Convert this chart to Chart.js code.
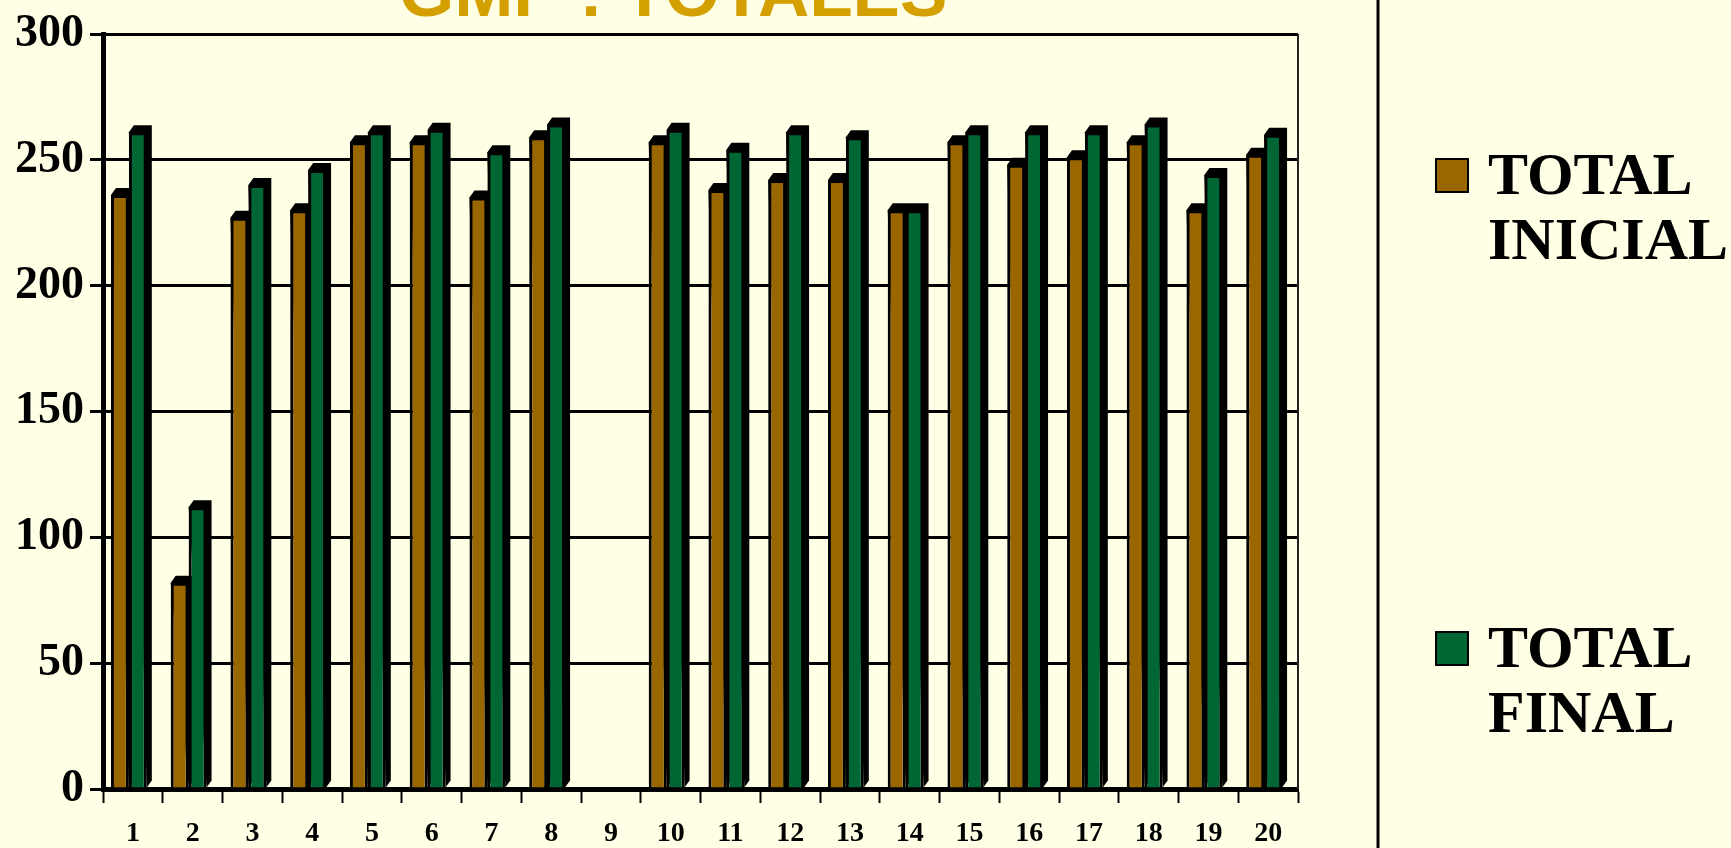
<!DOCTYPE html>
<html>
<head>
<meta charset="utf-8">
<script src="https://cdn.jsdelivr.net/npm/chart.js@4/dist/chart.umd.min.js"></script>
<style>
  html, body { margin: 0; padding: 0; background: #FFFFE6; overflow: hidden; }
  #wrap { position: relative; width: 1731px; height: 848px; }
  #title {
    position: absolute; left: 399px; top: -44px;
    font: bold 71px "Liberation Sans", Arial, sans-serif; line-height: 71px;
    color: #D4A000; white-space: nowrap;
  }
  .leg { position: absolute; left: 1435px; }
  .leg .box { position: absolute; left: 0; width: 30px; height: 31px; border: 2px solid #000; }
  .leg .txt {
    position: absolute; left: 53px; top: 0;
    font: bold 60px "Liberation Serif", "Times New Roman", serif; line-height: 65px;
    color: #000; white-space: nowrap;
  }
</style>
</head>
<body>
<div id="wrap">
  <canvas id="chart" width="1731" height="848"></canvas>
  <div id="title">GMP : TOTALES</div>
  <div class="leg" style="top:142px"><div class="box" style="top:16px;background:#996600"></div><div class="txt">TOTAL<br>INICIAL</div></div>
  <div class="leg" style="top:615px"><div class="box" style="top:16px;background:#006633"></div><div class="txt">TOTAL<br>FINAL</div></div>
</div>
<script>
// categories (sample number) and the two series
const categories = ['1', '2', '3', '4', '5', '6', '7', '8', '9', '10',
                    '11', '12', '13', '14', '15', '16', '17', '18', '19', '20'];
const totalInicial = [236, 82, 227, 230, 257, 257, 235, 259, null, 257,
                      238, 242, 242, 230, 257, 248, 251, 257, 230, 252];
const totalFinal = [261, 112, 240, 246, 261, 262, 253, 264, null, 262,
                    254, 261, 259, 230, 261, 261, 261, 264, 244, 260];
const yTicks = [0, 50, 100, 150, 200, 250, 300];

const DX = 5, DY = 7; // fake 3D depth of the bars

// draws the black top/side faces behind each bar, plus the frame bits
const depthPlugin = {
    id: 'depth',
    afterDatasetsUpdate: function (chart) {
        // the 3D depth is part of the group, so pull the fronts a bit left
        chart.data.datasets.forEach((ds, i) => {
            chart.getDatasetMeta(i).data.forEach(bar => { bar.x -= 4; });
        });
    },
    beforeDatasetsDraw: function (chart) {
        const ctx = chart.ctx;
        const area = chart.chartArea;
        ctx.save();
        // right border of the plot
        ctx.strokeStyle = '#222';
        ctx.lineWidth = 2;
        ctx.beginPath();
        ctx.moveTo(area.right, area.top);
        ctx.lineTo(area.right, area.bottom);
        ctx.stroke();

        ctx.fillStyle = '#000';
        chart.data.datasets.forEach((ds, i) => {
            chart.getDatasetMeta(i).data.forEach(bar => {
                const p = bar.getProps(['x', 'y', 'base', 'width'], true);
                if (p.y == null || isNaN(p.y) || p.base - p.y <= 0) return;
                const l = p.x - p.width / 2, r = p.x + p.width / 2;
                ctx.beginPath();
                ctx.moveTo(l, p.y);
                ctx.lineTo(l + DX, p.y - DY);
                ctx.lineTo(r + DX, p.y - DY);
                ctx.lineTo(r + DX, p.base - DY);
                ctx.lineTo(r, p.base);
                ctx.closePath();
                ctx.fill();
            });
        });
        ctx.restore();
    },
    afterDraw: function (chart) {
        // separator line between plot and legend
        const ctx = chart.ctx;
        ctx.save();
        ctx.strokeStyle = '#000';
        ctx.lineWidth = 3;
        ctx.beginPath();
        ctx.moveTo(1378, 0);
        ctx.lineTo(1378, chart.height);
        ctx.stroke();
        ctx.restore();
    }
};

const serif = '"Liberation Serif", "Times New Roman", serif';

new Chart(document.getElementById('chart'), {
    type: 'bar',
    data: {
        labels: categories,
        datasets: [
            { label: 'TOTAL INICIAL', data: totalInicial, backgroundColor: '#996600',
              borderColor: '#000', borderWidth: 3 },
            { label: 'TOTAL FINAL', data: totalFinal, backgroundColor: '#006633',
              borderColor: '#000', borderWidth: 3 }
        ]
    },
    options: {
        responsive: false,
        animation: false,
        events: [],
        layout: { padding: { top: 34, right: 433, left: 0, bottom: 0 } },
        datasets: { bar: { categoryPercentage: 0.6, barPercentage: 1 } },
        plugins: {
            legend: { display: false },
            title: { display: false },
            tooltip: { enabled: false }
        },
        scales: {
            x: {
                afterFit: s => { s.height = 59; },
                grid: { display: true, drawOnChartArea: false, offset: true,
                        tickLength: 14, tickColor: '#000', tickWidth: 2 },
                border: { display: true, color: '#000', width: 5 },
                ticks: { color: '#000', padding: 14, maxRotation: 0, autoSkip: false,
                         font: { family: serif, size: 28, weight: 'bold' } }
            },
            y: {
                min: 0,
                max: 300,
                afterFit: s => { s.width = 103; },
                afterBuildTicks: s => { s.ticks = yTicks.map(v => ({ value: v })); },
                grid: { color: '#000', lineWidth: 3, tickLength: 13,
                        tickColor: '#000', tickWidth: 3 },
                border: { display: true, color: '#000', width: 5 },
                ticks: { color: '#000', padding: 6,
                         font: { family: serif, size: 46, weight: 'bold' } }
            }
        }
    },
    plugins: [depthPlugin]
});
</script>
</body>
</html>
